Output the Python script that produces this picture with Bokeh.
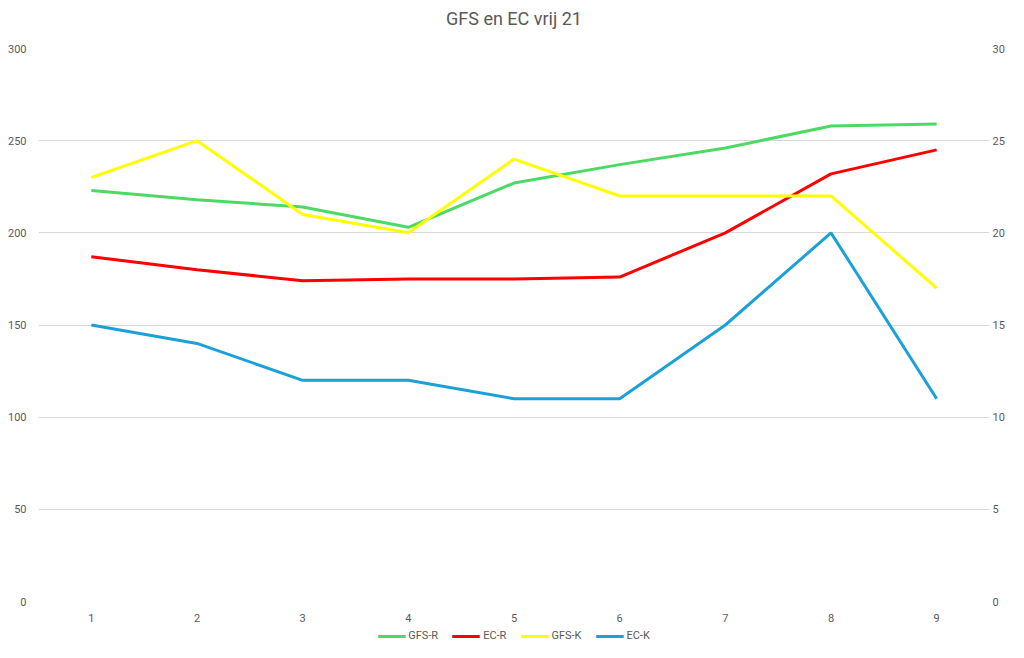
from bokeh.plotting import figure
from bokeh.models import Range1d, LinearAxis, FixedTicker, Legend, LegendItem, Label
from bokeh.layouts import column
from bokeh.embed import file_html
from bokeh.resources import INLINE

categories = ["1", "2", "3", "4", "5", "6", "7", "8", "9"]
gfs_r = [223, 218, 214, 203, 227, 237, 246, 258, 259]
ec_r = [187, 180, 174, 175, 175, 176, 200, 232, 245]
gfs_k = [23, 25, 21, 20, 24, 22, 22, 22, 17]
ec_k = [15, 14, 12, 12, 11, 11, 15, 20, 11]
left_ticks = [0, 50, 100, 150, 200, 250, 300]
right_ticks = [0, 5, 10, 15, 20, 25, 30]
series_names = ["GFS-R", "EC-R", "GFS-K", "EC-K"]
series_colors = ["#4CD964", "#FF0000", "#FFFF00", "#1BA1D8"]
series_values = [gfs_r, ec_r, gfs_k, ec_k]
title_text = "GFS en EC vrij 21"

FONT = "Roboto"
GREY = "#595959"

# ---- title strip
top = figure(width=1008, height=36, x_axis_type=None, y_axis_type=None,
             x_range=Range1d(0, 1), y_range=Range1d(0, 1),
             toolbar_location=None, output_backend="svg",
             min_border=0, min_border_left=16)
top.outline_line_color = None
top.add_layout(Label(x=0.5, y=0.5, text=title_text, text_align="center",
                     text_baseline="middle", text_font=FONT, text_font_size="18px",
                     text_color=GREY))

# ---- main chart
p = figure(width=1008, height=590, x_range=categories, y_range=Range1d(0, 300),
           output_backend="svg", toolbar_location=None,
           min_border_left=38, min_border_right=19, min_border_top=12, min_border_bottom=25)
p.extra_y_ranges = {"k": Range1d(0, 30)}

p.outline_line_color = None
p.xgrid.grid_line_color = None
p.ygrid.grid_line_color = "#D9D9D9"
p.ygrid.grid_line_width = 1
p.ygrid.ticker = FixedTicker(ticks=left_ticks)

def style_axis(ax, standoff):
    ax.axis_line_color = None
    ax.major_tick_line_color = None
    ax.minor_tick_line_color = None
    ax.major_tick_out = 0
    ax.major_tick_in = 0
    ax.minor_tick_out = 0
    ax.minor_tick_in = 0
    ax.major_label_text_font = FONT
    ax.major_label_text_font_size = "11px"
    ax.major_label_text_color = GREY
    ax.major_label_standoff = standoff

p.yaxis.ticker = FixedTicker(ticks=left_ticks)
style_axis(p.yaxis[0], 12)
style_axis(p.xaxis[0], 12)

right = LinearAxis(y_range_name="k", ticker=FixedTicker(ticks=right_ticks))
style_axis(right, 3)
p.add_layout(right, "right")

p.line(categories, gfs_r, line_color=series_colors[0], line_width=3)
p.line(categories, ec_r, line_color=series_colors[1], line_width=3)
p.line(categories, gfs_k, line_color=series_colors[2], line_width=3, y_range_name="k")
p.line(categories, ec_k, line_color=series_colors[3], line_width=3, y_range_name="k")

# ---- legend strip below the chart (series drawn out of view, only the legend shows)
leg = figure(width=1008, height=16, x_axis_type=None, y_axis_type=None,
             x_range=categories, y_range=Range1d(1000, 1001),
             toolbar_location=None, output_backend="svg",
             min_border=0, min_border_left=18)
leg.outline_line_color = None
items = []
for name, col, vals in zip(series_names, series_colors, series_values):
    r = leg.line(categories, vals, line_color=col, line_width=3)
    items.append(LegendItem(label=name, renderers=[r]))
legend = Legend(items=items, orientation="horizontal", location="bottom_center",
                label_text_font=FONT, label_text_font_size="11px", label_text_color=GREY,
                glyph_width=28, glyph_height=12, label_height=12, label_standoff=3,
                spacing=14, padding=0, margin=0, border_line_color=None,
                background_fill_alpha=0)
leg.add_layout(legend, "center")

open("out.html", "w").write(file_html(column(top, p, leg), INLINE))
